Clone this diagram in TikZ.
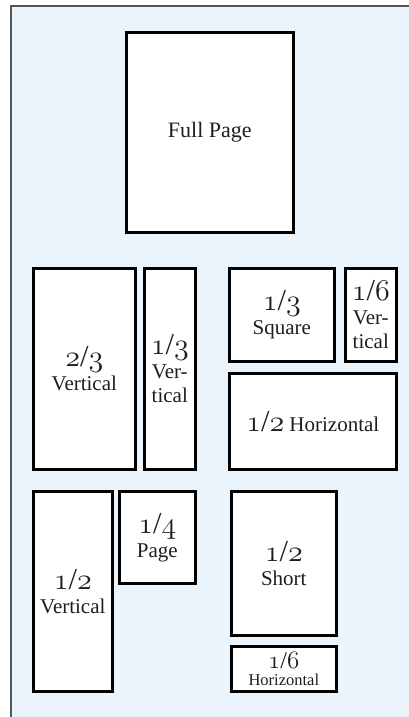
\documentclass[tikz,border=0pt]{standalone}
\usepackage{fontspec}
\usepackage{graphicx}
\setmainfont{Liberation Serif}
\newcommand\osn[1]{{\usefont{OML}{cmm}{m}{it}#1}}
\newcommand\frc[2]{\scalebox{1.45}{\osn{#1}/\osn{#2}}}
\definecolor{bgblue}{RGB}{235,243,251}
\definecolor{framegray}{RGB}{85,85,85}
\definecolor{txt}{RGB}{30,30,30}
\tikzset{
  adbox/.style={draw=black, line width=2.6pt, fill=white, anchor=north west,
    inner sep=0pt, outer sep=0pt, align=center, text=txt,
    font=\fontsize{21}{24}\selectfont},
}
\begin{document}
\begin{tikzpicture}[x=1pt,y=1pt]
\useasboundingbox (0,0) rectangle (409,-717);
\fill[bgblue] (11,-6) rectangle (409,-717);
\draw[framegray, line width=1.4pt] (11,-717) -- (11,-6) -- (409,-6);
% full page
\node[adbox, minimum width=167, minimum height=200, font=\fontsize{22}{24}\selectfont] (full) at (126.3,-32.3) {Full Page};
% row 2
\node[adbox, minimum width=102, minimum height=201] (v23) at (33.3,-268.3) {\frc{2}{3}\\Vertical};
\node[adbox, minimum width=51, minimum height=201] (v13) at (144.3,-268.3) {\frc{1}{3}\\Ver-\\tical};
\node[adbox, minimum width=105, minimum height=93] (sq13) at (229.3,-268.3) {\frc{1}{3}\\Square};
\node[adbox, minimum width=51, minimum height=93] (v16) at (345.3,-268.3) {\frc{1}{6}\\Ver-\\tical};
\node[adbox, minimum width=167, minimum height=96] (h12) at (229.3,-373.3) {\frc{1}{2} Horizontal};
% row 3
\node[adbox, minimum width=79, minimum height=200] (v12) at (33.3,-491.3) {\frc{1}{2}\\Vertical};
\node[adbox, minimum width=76, minimum height=92] (p14) at (119.3,-491.3) {\frc{1}{4}\\Page};
\node[adbox, minimum width=105, minimum height=144] (s12) at (231.3,-491.3) {\frc{1}{2}\\Short};
\node[adbox, minimum width=105, minimum height=45, font=\fontsize{16.5}{16.5}\selectfont] (h16) at (231.3,-646.3) {\frc{1}{6}\\Horizontal};
\end{tikzpicture}
\end{document}
